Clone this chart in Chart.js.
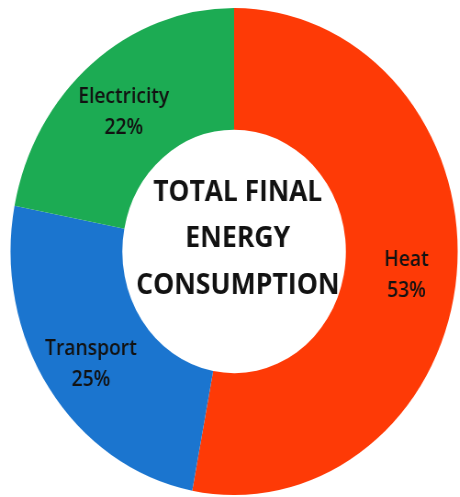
<!DOCTYPE html>
<html>
<head>
<meta charset="utf-8">
<script src="https://cdn.jsdelivr.net/npm/chart.js@4.4.1/dist/chart.umd.min.js"></script>
<style>
  html, body { margin: 0; padding: 0; background: #fff; overflow: hidden; width: 460px; height: 497px; }
  #energyChart { display: block; transform: scaleX(0.918); transform-origin: 0 0; }
</style>
</head>
<body>
<canvas id="energyChart" width="510" height="497"></canvas>
<script>
const categories = ['Heat', 'Transport', 'Electricity'];
const shares = [53, 25, 22];
const sliceColors = ['#fe3a06', '#1b75cf', '#1cab53'];
const centerLines = ['TOTAL FINAL', 'ENERGY', 'CONSUMPTION'];

const textColor = '#121212';

// slice labels: name on one line, percent below, in the middle of the ring
const sliceLabels = {
    id: 'sliceLabels',
    afterDatasetsDraw(chart) {
        const ctx = chart.ctx;
        const meta = chart.getDatasetMeta(0);
        ctx.save();
        ctx.fillStyle = textColor;
        ctx.textAlign = 'center';
        ctx.textBaseline = 'middle';
        meta.data.forEach((arc, i) => {
            const p = arc.getProps(['x', 'y', 'startAngle', 'endAngle', 'innerRadius', 'outerRadius']);
            const mid = (p.startAngle + p.endAngle) / 2;
            const r = (p.innerRadius + p.outerRadius) / 2 + 6;
            const x = p.x + Math.cos(mid) * r;
            const y = p.y + Math.sin(mid) * r + 6;
            ctx.font = '600 21px "Open Sans", sans-serif';
            ctx.fillText(categories[i], x, y - 15, 118);
            ctx.fillText(shares[i] + '%', x, y + 16);
        });
        ctx.restore();
    }
};

const centerText = {
    id: 'centerText',
    afterDraw(chart) {
        const ctx = chart.ctx;
        const arc = chart.getDatasetMeta(0).data[0];
        ctx.save();
        ctx.fillStyle = textColor;
        ctx.textAlign = 'center';
        ctx.textBaseline = 'middle';
        ctx.font = 'bold 29px "Open Sans", sans-serif';
        const widths = [184, 115, 228];
        centerLines.forEach((line, i) => {
            ctx.fillText(line, arc.x + 4, arc.y - 59 + i * 46.5, widths[i]);
        });
        ctx.restore();
    }
};

new Chart(document.getElementById('energyChart').getContext('2d'), {
    type: 'doughnut',
    data: {
        labels: categories,
        datasets: [{
            data: shares,
            backgroundColor: sliceColors,
            borderWidth: 0
        }]
    },
    options: {
        responsive: false,
        animation: false,
        devicePixelRatio: 1,
        cutout: '50%',
        layout: { padding: { top: 8, bottom: 2 } },
        plugins: {
            legend: { display: false },
            tooltip: { enabled: false }
        }
    },
    plugins: [sliceLabels, centerText]
});
</script>
</body>
</html>
